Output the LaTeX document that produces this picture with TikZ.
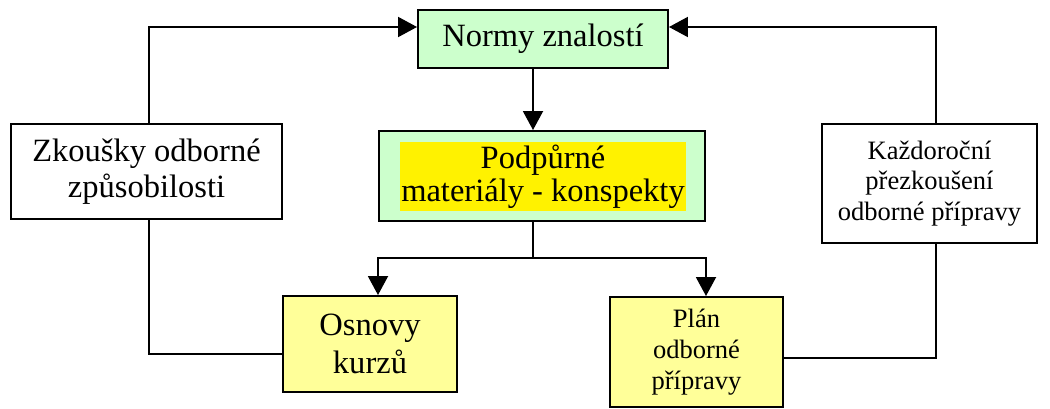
\documentclass[tikz,border=0pt]{standalone}
\usepackage{fontspec}
\setmainfont{Liberation Serif}
\usetikzlibrary{arrows.meta}

\definecolor{boxgreen}{HTML}{CCFFCC}
\definecolor{boxyellow}{HTML}{FFFF99}

\begin{document}
\begin{tikzpicture}[
		box/.style={draw, line width=1.1pt, align=center, inner sep=0pt},
		bigtext/.style={font=\fontsize{18.5}{20.5}\selectfont},
		smalltext/.style={font=\fontsize{15.1}{17.5}\selectfont},
		conn/.style={line width=1.1pt},
		arr/.style={conn, -{Triangle[length=0.38cm, width=0.4cm]}}
	]
		\useasboundingbox (0, 0) rectangle (21, 8.16);
		%\draw[lightgray] (0, 0) grid (21, 8);
		
		\node[box, bigtext, fill=boxgreen, minimum width=5cm, minimum height=1.16cm] (normy) at (10.86, 7.38) {Normy znalostí};
		\node[box, fill=boxgreen, minimum width=6.52cm, minimum height=1.8cm] (podklady) at (10.84, 4.64) {};
		\node[bigtext, fill=yellow, align=center, inner sep=0pt, minimum width=5.72cm, minimum height=1.38cm] (podtext) at (10.86, 4.63) {Podpůrné\\[-1.5pt] materiály - konspekty};
		\node[box, bigtext, minimum width=5.42cm, minimum height=1.9cm] (zkousky) at (2.93, 4.73) {Zkoušky odborné\\ způsobilosti};
		\node[box, smalltext, minimum width=4.3cm, minimum height=2.38cm] (prezkouseni) at (18.59, 4.49) {Každoroční\\ přezkoušení\\ odborné přípravy};
		\node[box, bigtext, fill=boxyellow, minimum width=3.48cm, minimum height=1.92cm] (osnovy) at (7.4, 1.28) {Osnovy\\[1.5pt] kurzů};
		\node[box, smalltext, fill=boxyellow, minimum width=3.46cm, minimum height=2.2cm] (plan) at (13.93, 1.12) {Plán\\ odborné\\ přípravy};
		
		\coordinate (trunk) at (10.66, 3.0);
		\coordinate (topL) at (2.98, 7.62);
		\coordinate (topR) at (18.72, 7.62);
		\coordinate (osnovyIn) at (7.56, 3.0);
		\coordinate (planIn) at (14.12, 3.0);
		\coordinate (botL) at (2.98, 1.08);
		\coordinate (botR) at (18.72, 1.0);
		
		\draw[arr] (normy.south -| trunk) -- (podklady.north -| trunk);
		\draw[conn] (podklady.south -| trunk) -- (trunk);
		\draw[arr] (trunk) -- (osnovyIn) -- (osnovy.north -| osnovyIn);
		\draw[arr] (trunk) -- (planIn) -- (plan.north -| planIn);
		
		\draw[arr] (zkousky.north -| topL) -- (topL) -- (normy.west |- topL);
		\draw[arr] (prezkouseni.north -| topR) -- (topR) -- (normy.east |- topR);
		\draw[conn] (zkousky.south -| botL) -- (botL) -- (osnovy.west |- botL);
		\draw[conn] (prezkouseni.south -| botR) -- (botR) -- (plan.east |- botR);
	\end{tikzpicture}
\end{document}
